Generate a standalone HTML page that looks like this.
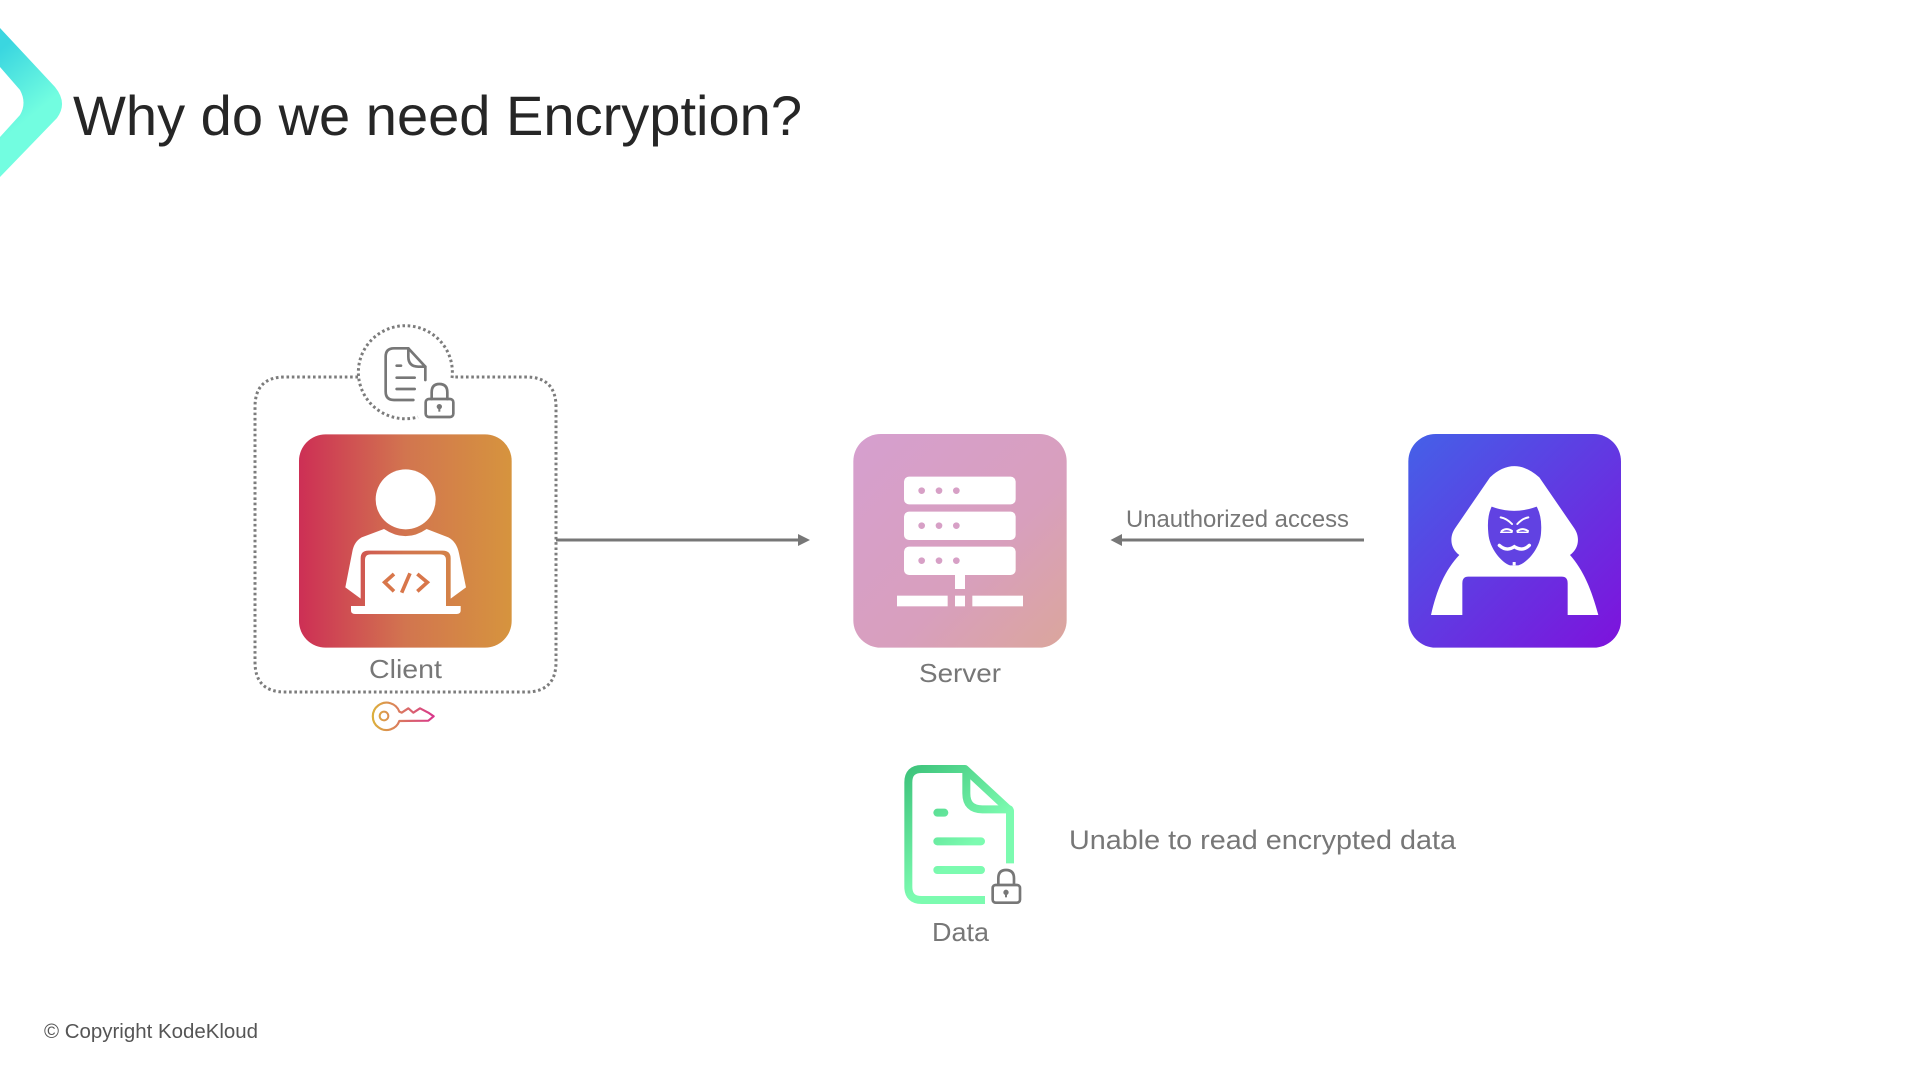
<!DOCTYPE html>
<html><head><meta charset="utf-8"><title>Why do we need Encryption?</title>
<style>html,body{margin:0;padding:0;background:#fff;width:1920px;height:1080px;overflow:hidden}svg{display:block}text{font-family:"Liberation Sans",sans-serif}</style></head>
<body>
<svg xmlns="http://www.w3.org/2000/svg" width="1920" height="1080" viewBox="0 0 1920 1080">
<defs>
<linearGradient id="chev" gradientUnits="userSpaceOnUse" x1="0" y1="50" x2="45" y2="105"><stop offset="0" stop-color="#3ad6e0"/><stop offset="1" stop-color="#72fde0"/></linearGradient>
<linearGradient id="red" x1="0" y1="0" x2="1" y2="0"><stop offset="0" stop-color="#cd2f55"/><stop offset=".5" stop-color="#d2754f"/><stop offset="1" stop-color="#d6943e"/></linearGradient>
<linearGradient id="pink" x1="0" y1="0" x2="1" y2="1"><stop offset="0" stop-color="#d69fcf"/><stop offset=".6" stop-color="#d89fbd"/><stop offset="1" stop-color="#dba69c"/></linearGradient>
<linearGradient id="blue" x1="0" y1="0" x2="1" y2="1"><stop offset="0" stop-color="#4461e8"/><stop offset="1" stop-color="#7e12dc"/></linearGradient>
<linearGradient id="green" gradientUnits="userSpaceOnUse" x1="50" y1="50" x2="250" y2="280"><stop offset="0" stop-color="#3cc27a"/><stop offset="1" stop-color="#7cfbb0"/></linearGradient>
<linearGradient id="key" gradientUnits="userSpaceOnUse" x1="400" y1="0" x2="582" y2="0"><stop offset="0" stop-color="#dcae3c"/><stop offset="1" stop-color="#d8358c"/></linearGradient>
</defs>

<!-- chevron -->
<path d="M0,28 L55,87 Q68,103 57,118 L0,177 L0,137 L20,115 Q27,103 20,90 L0,67 Z" fill="url(#chev)"/>
<text x="73" y="135" font-size="56" fill="#262626" textLength="729" lengthAdjust="spacingAndGlyphs">Why do we need Encryption?</text>

<!-- client dotted box -->
<path d="M358,377 L285,377 Q255,377 255,407 L255,662 Q255,692 285,692 L526,692 Q556,692 556,662 L556,407 Q556,377 526,377 L453,377" fill="none" stroke="#7c7c7c" stroke-width="3" stroke-dasharray="2.6 2.7"/>
<path d="M452,378 A47,46.500 0 1 0 418,417" fill="none" stroke="#7c7c7c" stroke-width="3" stroke-dasharray="2.6 2.7"/>

<!-- client tile & icon -->
<g transform="translate(240 310) scale(.33333)">
 <rect x="177" y="373" width="638" height="640" rx="80" fill="url(#red)"/>
 <circle cx="497" cy="568" r="90" fill="#fff"/>
 <path d="M432,657 Q497,700 560,657 L625,682 Q650,695 657,730 L678,832 L632,866 L632,745 Q632,722 608,722 L385,722 Q362,722 362,745 L362,866 L316,832 L337,725 Q342,695 365,682 Z" fill="#fff"/>
 <path d="M375,750 Q375,733 392,733 L600,733 Q618,733 618,750 L618,888 L662,888 L662,902 Q662,912 650,912 L345,912 Q333,912 333,902 L333,888 L375,888 Z" fill="#fff"/>
 <path d="M462,792 L434,817 L462,844 M532,792 L562,817 L532,844 M510,790 L485,848" fill="none" stroke="#d8764a" stroke-width="11"/>
 <!-- doc icon -->
 <g fill="none" stroke="#777" stroke-width="8" stroke-linecap="round" stroke-linejoin="round">
  <path d="M520,270 L462,270 Q437,270 437,245 L437,140 Q437,115 462,115 L505,115 L556,170 L556,210"/>
  <path d="M505,115 L505,140 Q505,170 535,170 L556,170"/>
  <path d="M470,167 L483,167 M470,203 L524,203 M470,237 L524,237"/>
  <rect x="557" y="267" width="83" height="54" rx="10"/>
  <path d="M575,267 L575,247 Q575,222 598,222 Q622,222 622,247 L622,267"/>
 </g>
 <circle cx="598" cy="290" r="8" fill="#777"/><rect x="595" y="292" width="6" height="13" fill="#777"/>
 <!-- key -->
 <g fill="none" stroke="url(#key)" stroke-linejoin="round">
  <path stroke-width="6.500" d="M478,1205 A41,41 0 1 0 478,1233 L565,1232 L581,1219 L565,1208 L540,1195 L520,1208 L505,1195 L485,1208 Z"/>
  <circle cx="432" cy="1218" r="13" stroke-width="6"/>
 </g>
</g>
<text x="369" y="678" font-size="26" fill="#777" textLength="73" lengthAdjust="spacingAndGlyphs">Client</text>

<!-- client arrow -->
<path d="M556,540 L800,540" stroke="#777" stroke-width="3"/>
<path d="M798,534 L810,540 L798,546 Z" fill="#777"/>

<!-- server -->
<g transform="translate(840 420) scale(.33333)">
 <rect x="40" y="42" width="640" height="641" rx="82" fill="url(#pink)"/>
 <g fill="#fff">
  <rect x="192" y="170" width="335" height="83" rx="15"/>
  <rect x="192" y="275" width="335" height="85" rx="15"/>
  <rect x="192" y="380" width="335" height="85" rx="15"/>
  <rect x="345" y="465" width="30" height="42"/>
  <rect x="171" y="527" width="152" height="32"/>
  <rect x="345" y="527" width="30" height="32"/>
  <rect x="397" y="527" width="152" height="32"/>
 </g>
 <g fill="#d7a0c6">
  <circle cx="245" cy="212" r="10"/><circle cx="297" cy="212" r="10"/><circle cx="349" cy="212" r="10"/>
  <circle cx="245" cy="317" r="10"/><circle cx="297" cy="317" r="10"/><circle cx="349" cy="317" r="10"/>
  <circle cx="245" cy="422" r="10"/><circle cx="297" cy="422" r="10"/><circle cx="349" cy="422" r="10"/>
 </g>
</g>
<text x="919" y="682" font-size="26" fill="#777" textLength="82" lengthAdjust="spacingAndGlyphs">Server</text>

<!-- unauthorized arrow -->
<text x="1126" y="527" font-size="24" fill="#777" textLength="223" lengthAdjust="spacingAndGlyphs">Unauthorized access</text>
<path d="M1364,540 L1120,540" stroke="#777" stroke-width="3"/>
<path d="M1122,534 L1110.500,540 L1122,546 Z" fill="#777"/>

<!-- hacker -->
<g transform="translate(1390 420) scale(.33333)">
 <rect x="55" y="42" width="638" height="641" rx="82" fill="url(#blue)"/>
 <path d="M123,585 C140,510 165,450 208,405 C180,385 178,350 195,325 L300,172 Q372,105 448,172 L553,325 C570,350 568,385 540,405 C580,450 605,510 625,585 L533,585 L533,490 Q533,470 515,470 L235,470 Q217,470 217,490 L217,585 Z" fill="#fff"/>
 <path d="M305,260 Q372,285 440,260 Q457,290 453,340 C450,385 412,428 385,436 L360,436 C335,428 298,385 295,340 Q290,290 305,260 Z" fill="#6142e2"/>
 <rect x="368" y="426" width="9" height="10" fill="#fff"/>
 <g fill="none" stroke="#fff" stroke-linecap="round">
  <path stroke-width="6" d="M332,292 Q350,295 366,312 M415,292 Q398,295 382,312"/>
  <path stroke-width="6" d="M335,333 Q350,322 366,333 M382,333 Q398,322 414,333"/>
  <path stroke-width="4" d="M332,337 L366,337 M382,337 L414,337"/>
  <path stroke-width="10" d="M328,376 Q350,396 373,380 Q398,396 418,376"/>
 </g>
</g>

<!-- data -->
<g transform="translate(890 750) scale(.33333)">
 <g fill="none" stroke="url(#green)" stroke-width="24" stroke-linejoin="round" stroke-linecap="round">
  <path stroke-linecap="butt" d="M285,450 L95,450 Q55,450 55,410 L55,97 Q55,57 95,57 L225,57 L360,182 L360,340"/>
  <path d="M229,62 L229,130 Q229,178 277,178 L358,178"/>
  <path d="M142,188 L163,188 M142,274 L273,274 M142,360 L273,360"/>
 </g>
 <g fill="none" stroke="#777" stroke-width="8" stroke-linejoin="round">
  <rect x="308" y="405" width="82" height="53" rx="9"/>
  <path d="M325,405 L325,385 Q325,360 348,360 Q372,360 372,385 L372,405"/>
 </g>
 <circle cx="348" cy="427" r="8" fill="#777"/><rect x="345" y="429" width="6" height="13" fill="#777"/>
</g>
<text x="932" y="941" font-size="26" fill="#777" textLength="57" lengthAdjust="spacingAndGlyphs">Data</text>
<text x="1069" y="849" font-size="27" fill="#777" textLength="387" lengthAdjust="spacingAndGlyphs">Unable to read encrypted data</text>

<text x="44" y="1038" font-size="20" fill="#555" textLength="214" lengthAdjust="spacingAndGlyphs">© Copyright KodeKloud</text>
</svg>
</body></html>
